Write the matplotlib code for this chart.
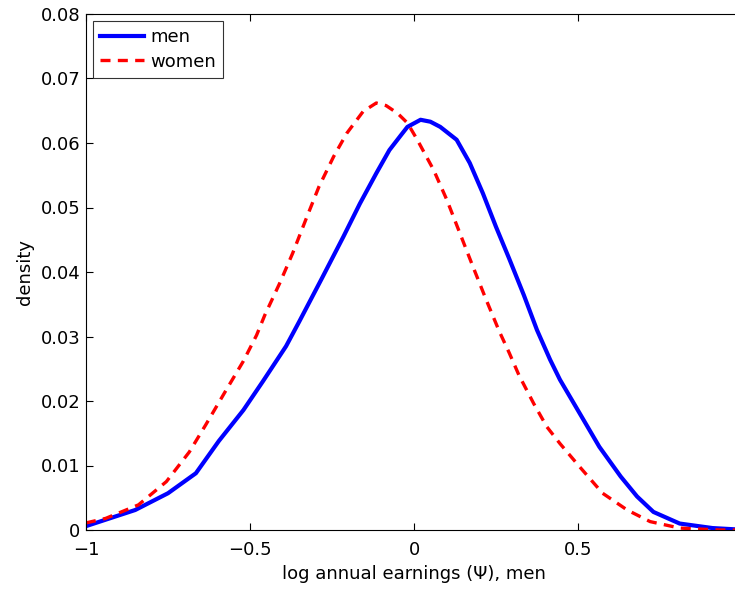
import matplotlib
matplotlib.use("Agg")
import matplotlib.pyplot as plt

plt.rcParams['font.family'] = ['DejaVu Sans']

men_x = [-1.0, -0.85, -0.75, -0.665, -0.595, -0.52, -0.46, -0.39, -0.35, -0.28, -0.215, -0.165,
         -0.115, -0.075, -0.04, -0.02, 0.02, 0.05, 0.08, 0.13, 0.17, 0.21, 0.25, 0.29, 0.335,
         0.375, 0.415, 0.445, 0.505, 0.565, 0.63, 0.68, 0.73, 0.81, 0.91, 0.98]
men_y = [0.0006, 0.0031, 0.0057, 0.0088, 0.0138, 0.0186, 0.0231, 0.0285, 0.0323, 0.0391, 0.0455,
         0.0506, 0.0553, 0.0589, 0.0612, 0.0625, 0.0636, 0.0633, 0.0625, 0.0605, 0.0569, 0.0522,
         0.0470, 0.0421, 0.0364, 0.0310, 0.0264, 0.0233, 0.0181, 0.0129, 0.0083, 0.0052, 0.0028,
         0.0010, 0.0003, 0.0001]

women_x = [-1.0, -0.94, -0.84, -0.755, -0.685, -0.635, -0.575, -0.52, -0.48, -0.455, -0.41, -0.37,
           -0.33, -0.29, -0.245, -0.205, -0.155, -0.115, -0.085, -0.05, -0.02, 0.01, 0.06, 0.10,
           0.14, 0.18, 0.22, 0.26, 0.29, 0.32, 0.365, 0.405, 0.445, 0.505, 0.575, 0.65, 0.72,
           0.81, 0.93, 0.98]
women_y = [0.0011, 0.0018, 0.0039, 0.0075, 0.0121, 0.0163, 0.0215, 0.0262, 0.0302, 0.0333, 0.0382,
           0.0429, 0.0481, 0.0532, 0.0579, 0.0615, 0.0649, 0.0662, 0.0658, 0.0646, 0.0631, 0.0605,
           0.0558, 0.0512, 0.0460, 0.0408, 0.0357, 0.0308, 0.0275, 0.0240, 0.0196, 0.0160, 0.0134,
           0.0098, 0.0057, 0.0031, 0.0013, 0.0003, 0.0, 0.0]

x_ticks = [-1, -0.5, 0, 0.5, 1]
x_ticklabels = ['\u22121', '\u22120.5', '0', '0.5', '']
y_ticks = [0, 0.01, 0.02, 0.03, 0.04, 0.05, 0.06, 0.07, 0.08]
y_ticklabels = ['0', '0.01', '0.02', '0.03', '0.04', '0.05', '0.06', '0.07', '0.08']

W, H = 735, 590
fig = plt.figure(figsize=(W / 100, H / 100), dpi=100)
ax = fig.add_axes([86 / W, 60 / H, 656 / W, 516 / H])

ax.plot(men_x, men_y, color='#0000ff', lw=3.0, label='men', solid_joinstyle='round')
ax.plot(women_x, women_y, color='#ff0000', lw=2.4, linestyle=(0, (3.0, 2.2)), label='women')

ax.set_xlim(-1, 1)
ax.set_ylim(0, 0.08)
ax.set_xticks(x_ticks)
ax.set_xticklabels(x_ticklabels)
ax.set_yticks(y_ticks)
ax.set_yticklabels(y_ticklabels)
ax.tick_params(direction='in', length=5, width=0.8, top=True, right=True, labelsize=13)
ax.tick_params(axis='x', pad=8)
ax.tick_params(axis='y', pad=4)
for s in ax.spines.values():
    s.set_linewidth(0.8)

ax.set_xlabel('log annual earnings (\u03a8), men', fontsize=13, labelpad=4)
ax.set_ylabel('density', fontsize=13, labelpad=5)

leg = ax.legend(loc='upper left', bbox_to_anchor=(93 / W, 1 - 21 / H), bbox_transform=fig.transFigure,
                fontsize=13, frameon=True, fancybox=False, borderaxespad=0, handlelength=2.4,
                handletextpad=0.35, borderpad=0.4, labelspacing=0.35)
leg.get_frame().set_edgecolor('black')
leg.get_frame().set_linewidth(0.8)

fig.savefig('out.png', dpi=100)
